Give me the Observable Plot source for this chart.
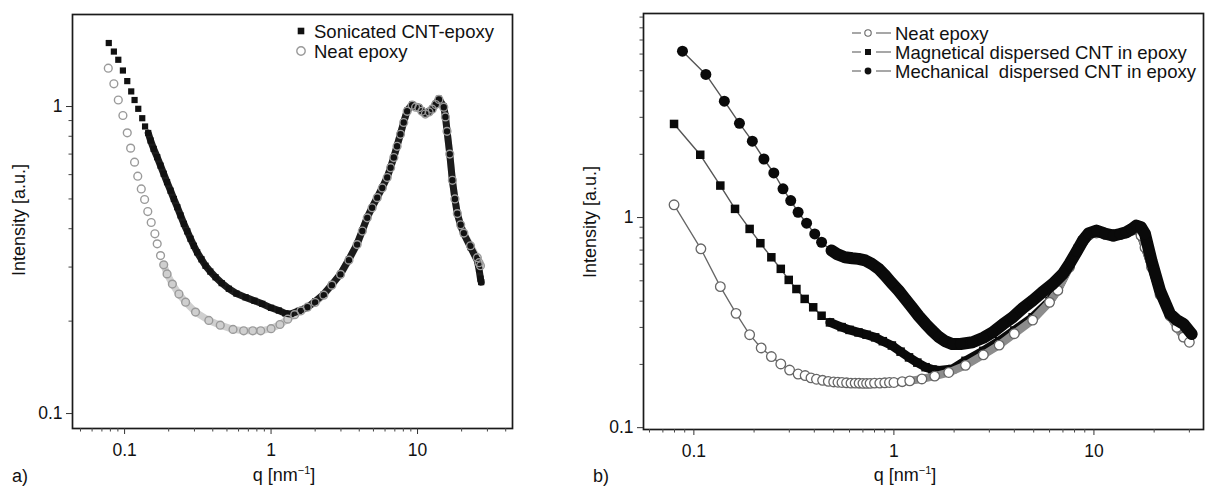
<!DOCTYPE html>
<html><head><meta charset="utf-8">
<script src="https://cdn.jsdelivr.net/npm/d3@7"></script>
<script src="https://cdn.jsdelivr.net/npm/@observablehq/plot@0.6"></script>
<style>
body{margin:0;background:#fff;}
#wrap{position:relative;width:1213px;height:490px;overflow:hidden;background:#fff;}
#wrap > svg{position:absolute;top:0;}
</style></head><body><div id="wrap"></div>
<script>
// ---------- Panel a data ----------
const qA_son = [0.078,0.0845,0.0906,0.0974,0.1043,0.111,0.117,0.124,0.132,0.138,0.145,0.1505,0.158,0.167,0.176,0.185,0.195,0.206,0.217,0.229,0.241,0.254,0.268,0.282,0.297,0.313,0.335,0.357,0.385,0.418,0.46,0.515,0.58,0.67,0.77,0.871,1.0,1.13,1.25,1.36,1.55,1.77,2.0,2.29,2.6,2.98,3.4,3.87,4.2,4.54,4.9,5.31,5.75,6.21,6.55,6.89,7.25,7.65,8.05,8.5,9.19,9.7,10.2,10.7,11.3,12.0,12.6,13.3,14.0,15.1,15.5,15.9,16.6,17.3,18.0,18.7,19.7,20.7,23.0,25.6,26.3,26.9,27.2];
const iA_son = [1.61,1.51,1.42,1.31,1.21,1.12,1.05,0.983,0.916,0.861,0.82,0.775,0.728,0.684,0.642,0.604,0.567,0.532,0.50,0.470,0.442,0.415,0.392,0.371,0.352,0.335,0.318,0.303,0.290,0.278,0.266,0.255,0.246,0.239,0.233,0.2277,0.221,0.2165,0.212,0.211,0.216,0.222,0.232,0.245,0.263,0.285,0.318,0.357,0.395,0.436,0.47,0.506,0.545,0.589,0.634,0.684,0.745,0.815,0.89,0.97,1.015,1.0,0.995,0.97,0.951,0.965,0.983,1.02,1.06,1.0,0.93,0.835,0.70,0.574,0.50,0.447,0.41,0.385,0.348,0.315,0.295,0.275,0.268];
const qA_neat = [0.0774,0.0845,0.0906,0.0974,0.1043,0.110,0.117,0.123,0.130,0.137,0.144,0.152,0.161,0.167,0.176,0.185,0.195,0.212,0.235,0.261,0.305,0.376,0.45,0.55,0.65,0.75,0.85,1.0,1.15,1.3,1.45,1.6,1.77,2.0,2.29,2.6,2.98,3.4,3.87,4.2,4.54,4.9,5.31,5.75,6.21,6.55,6.89,7.25,7.65,8.05,8.5,9.19,9.7,10.2,10.7,11.3,12.0,12.6,13.3,14.0,15.1,15.5,15.9,16.6,17.3,18.0,18.7,19.7,20.7,23.0,25.6,26.3,26.9];
const iA_neat = [1.333,1.186,1.05,0.935,0.821,0.732,0.659,0.593,0.539,0.498,0.455,0.419,0.385,0.357,0.327,0.305,0.285,0.264,0.245,0.2305,0.214,0.201,0.194,0.188,0.186,0.186,0.186,0.189,0.195,0.203,0.21,0.216,0.222,0.23,0.243,0.262,0.284,0.316,0.355,0.393,0.434,0.468,0.505,0.543,0.587,0.632,0.682,0.742,0.812,0.887,0.965,1.01,0.995,0.99,0.965,0.945,0.96,0.98,1.015,1.055,0.995,0.925,0.83,0.70,0.575,0.50,0.448,0.412,0.387,0.352,0.322,0.31,0.303];

// ---------- Panel b data ----------
const qB_neat = [0.0796,0.1084,0.1356,0.1625,0.190,0.217,0.244,0.272,0.301,0.332,0.36,0.385,0.41,0.44,0.47,0.50,0.525,0.55,0.58,0.61,0.64,0.67,0.70,0.73,0.76,0.80,0.85,0.9,0.95,1.0,1.1,1.2,1.38,1.6,1.88,2.28,2.8,3.36,4.0,4.94,6.0,6.6,7.55,8.3,8.81,9.5,10.3,11.4,12.5,13.5,14.5,15.5,16.3,17.2,18.0,19.4,21.4,24.0,26.0,28.0,30.0];
const iB_neat = [1.15,0.71,0.469,0.35,0.277,0.2395,0.218,0.201,0.188,0.180,0.177,0.1725,0.170,0.168,0.166,0.165,0.1645,0.164,0.1635,0.163,0.163,0.1628,0.1625,0.1625,0.1625,0.163,0.163,0.1635,0.164,0.164,0.1655,0.167,0.1705,0.176,0.183,0.198,0.222,0.247,0.28,0.325,0.395,0.45,0.58,0.70,0.77,0.83,0.845,0.83,0.815,0.83,0.845,0.87,0.88,0.82,0.72,0.58,0.43,0.34,0.30,0.27,0.255];
const qB_mag = [0.0796,0.1076,0.1356,0.1606,0.190,0.215,0.244,0.272,0.298,0.3256,0.358,0.395,0.435,0.479,0.548,0.60,0.665,0.73,0.806,0.88,0.977,1.08,1.19,1.31,1.44,1.56,1.68,1.96,2.28,2.8,3.36,4.0,4.94,6.0,6.6,7.55,8.3,8.81,9.5,10.3,11.4,12.5,13.5,14.5,15.5,16.3,17.2,18.0,19.4,21.4,24.0,26.0,28.0,30.0];
const iB_mag = [2.79,1.99,1.42,1.10,0.883,0.755,0.647,0.570,0.505,0.457,0.410,0.374,0.341,0.317,0.301,0.292,0.284,0.277,0.269,0.258,0.246,0.23,0.216,0.204,0.194,0.189,0.187,0.19,0.208,0.232,0.258,0.29,0.335,0.40,0.46,0.59,0.71,0.78,0.84,0.855,0.835,0.82,0.835,0.85,0.875,0.885,0.83,0.73,0.59,0.44,0.345,0.305,0.28,0.265];
const qB_mech = [0.0877,0.1148,0.142,0.169,0.196,0.224,0.251,0.279,0.305,0.332,0.366,0.402,0.435,0.488,0.52,0.569,0.62,0.665,0.72,0.775,0.84,0.904,0.97,1.056,1.14,1.23,1.33,1.44,1.55,1.68,1.8,1.96,2.15,2.47,2.8,3.11,3.5,3.92,4.4,4.94,5.5,6.22,7.0,7.55,8.2,8.81,9.4,10.3,11.3,12.5,13.5,14.5,15.4,16.3,17.2,18.0,19.4,21.4,24.0,26.0,28.0,30.8];
const iB_mech = [6.19,4.80,3.58,2.81,2.31,1.90,1.63,1.37,1.205,1.06,0.94,0.836,0.763,0.697,0.67,0.647,0.64,0.636,0.625,0.602,0.57,0.530,0.49,0.449,0.41,0.374,0.34,0.312,0.29,0.270,0.258,0.250,0.25,0.255,0.268,0.284,0.31,0.335,0.37,0.403,0.44,0.483,0.54,0.602,0.69,0.777,0.84,0.867,0.84,0.821,0.835,0.851,0.88,0.916,0.90,0.836,0.624,0.449,0.348,0.325,0.312,0.279];

// ---------- Ticks ----------
const xMajor = [0.1, 1, 10];
const xMinorA = [0.05,0.06,0.07,0.08,0.09,0.2,0.3,0.4,0.5,0.6,0.7,0.8,0.9,2,3,4,5,6,7,8,9,20,30,40];
const xMinorB = [0.06,0.07,0.08,0.09,0.2,0.3,0.4,0.5,0.6,0.7,0.8,0.9,2,3,4,5,6,7,8,9,20,30];
const yMajor = [0.1, 1];
const yMinorA = [0.2,0.3,0.4,0.5,0.6,0.7,0.8,0.9];
const yMinorB = [0.2,0.3,0.4,0.5,0.6,0.7,0.8,0.9,2,3,4,5,6,7,8,9];

const legendA = ["Sonicated CNT-epoxy", "Neat epoxy"];
const legendB = ["Neat epoxy", "Magnetical dispersed CNT in epoxy", "Mechanical  dispersed CNT in epoxy"];

const rows = (q, v) => q.map((d, i) => ({q: d, I: v[i]}));
const FONT = '"Liberation Sans", Arial, Helvetica, sans-serif';

function axes(xMinor, yMinor) {
  return [
    Plot.frame({stroke: "#1a1a1a", strokeWidth: 1.7}),
    Plot.axisX(xMajor, {tickSize: 6, tickPadding: 9, tickFormat: d => String(d), label: null, fontSize: 17.5, stroke: "#333"}),
    Plot.axisX(xMinor, {tickSize: 3.5, tickFormat: () => "", label: null, stroke: "#444"}),
    Plot.axisY(yMajor, {tickSize: 6, tickPadding: 4, tickFormat: d => String(d), label: null, fontSize: 17.5, stroke: "#333"}),
    Plot.axisY(yMinor, {tickSize: 3.5, tickFormat: () => "", label: null, stroke: "#444"})
  ];
}

// ---------- Panel a ----------
const sonA = rows(qA_son, iA_son), neatA = rows(qA_neat, iA_neat);
const plotA = Plot.plot({
  width: 590, height: 490,
  marginLeft: 72, marginRight: 78, marginTop: 14, marginBottom: 62,
  style: {fontFamily: FONT, fontSize: "17.5px", color: "#111", background: "transparent", overflow: "visible"},
  x: {type: "log", domain: [0.0441, 44.5]},
  y: {type: "log", domain: [0.0894, 1.994]},
  marks: [
    Plot.line(neatA.filter(d => d.q >= 0.18), {x: "q", y: "I", stroke: "#cfcfcf", strokeWidth: 7, strokeLinejoin: "round", strokeLinecap: "round"}),
    Plot.line(sonA.filter(d => d.q >= 0.14), {x: "q", y: "I", stroke: "#1c1c1c", strokeWidth: 7, strokeLinejoin: "round", strokeLinecap: "round"}),
    Plot.dot(sonA, {x: "q", y: "I", symbol: "square", r: 3.5, fill: "#111", stroke: "none"}),
    Plot.dot(neatA, {x: "q", y: "I", symbol: "circle", r: 3.9, fill: "none", stroke: "#9a9a9a", strokeWidth: 1.4}),
    ...axes(xMinorA, yMinorA)
  ]
});
plotA.style.left = "0px";

// ---------- Panel b ----------
const neatB = rows(qB_neat, iB_neat), magB = rows(qB_mag, iB_mag), mechB = rows(qB_mech, iB_mech);
const plotB = Plot.plot({
  width: 623, height: 490,
  marginLeft: 53, marginRight: 10, marginTop: 13, marginBottom: 61,
  style: {fontFamily: FONT, fontSize: "17.5px", color: "#111", background: "transparent", overflow: "visible"},
  x: {type: "log", domain: [0.056, 35.3]},
  y: {type: "log", domain: [0.098, 9.36]},
  marks: [
    Plot.line(magB, {x: "q", y: "I", stroke: "#555", strokeWidth: 1.4}),
    Plot.line(magB.filter(d => d.q >= 0.45), {x: "q", y: "I", stroke: "#0a0a0a", strokeWidth: 9, strokeLinejoin: "round", strokeLinecap: "round"}),
    Plot.dot(magB, {x: "q", y: "I", symbol: "square", r: 4.8, fill: "#0a0a0a"}),
    Plot.line(neatB, {x: "q", y: "I", stroke: "#666", strokeWidth: 1.3}),
    Plot.line(neatB.filter(d => d.q >= 1.0), {x: "q", y: "I", stroke: "#8c8c8c", strokeWidth: 8, strokeLinejoin: "round", strokeLinecap: "round"}),
    Plot.dot(neatB, {x: "q", y: "I", symbol: "circle", r: 4.8, fill: "white", stroke: "#666", strokeWidth: 1.3}),
    Plot.line(mechB, {x: "q", y: "I", stroke: "#555", strokeWidth: 1.4}),
    Plot.line(mechB.filter(d => d.q >= 0.45), {x: "q", y: "I", stroke: "#0a0a0a", strokeWidth: 12, strokeLinejoin: "round", strokeLinecap: "round"}),
    Plot.dot(mechB, {x: "q", y: "I", symbol: "circle", r: 5.5, fill: "#0a0a0a"}),
    ...axes(xMinorB, yMinorB)
  ]
});
plotB.style.left = "590px";

const wrap = document.getElementById("wrap");
wrap.appendChild(plotA);
wrap.appendChild(plotB);

// ---------- Overlay: titles, legends, panel letters ----------
const ov = d3.select(wrap).append("svg")
  .attr("width", 1213).attr("height", 490)
  .style("left", "0px").style("pointer-events", "none")
  .attr("font-family", FONT).attr("fill", "#111");

function xTitle(cx) {
  const t = ov.append("text").attr("x", cx).attr("y", 481).attr("text-anchor", "middle").attr("font-size", 18);
  t.append("tspan").text("q [nm");
  t.append("tspan").attr("dy", -7).attr("font-size", 11).text("\u22121");
  t.append("tspan").attr("dy", 7).text("]");
}
xTitle(284); xTitle(905);
function yTitle(cx, cy) {
  ov.append("text").attr("transform", `translate(${cx},${cy}) rotate(-90)`)
    .attr("text-anchor", "middle").attr("dominant-baseline", "central").attr("font-size", 18)
    .text("Intensity [a.u.]");
}
yTitle(19, 220); yTitle(590, 222);
ov.append("text").attr("x", 12).attr("y", 482).attr("font-size", 18).text("a)");
ov.append("text").attr("x", 593).attr("y", 482).attr("font-size", 18).text("b)");

// legend a
const symA = [
  g => g.append("rect").attr("x", -3.3).attr("y", -3.3).attr("width", 6.6).attr("height", 6.6).attr("fill", "#111"),
  g => g.append("circle").attr("r", 4.2).attr("fill", "none").attr("stroke", "#9a9a9a").attr("stroke-width", 1.4)
];
legendA.forEach((label, i) => {
  const y = 31 + i * 20;
  symA[i](ov.append("g").attr("transform", `translate(301,${y})`));
  ov.append("text").attr("x", 314).attr("y", y).attr("dominant-baseline", "central").attr("font-size", 18.5).text(label);
});

// legend b
const symB = [
  g => g.append("circle").attr("r", 3.2).attr("fill", "white").attr("stroke", "#666").attr("stroke-width", 1.1),
  g => g.append("rect").attr("x", -3).attr("y", -3).attr("width", 6).attr("height", 6).attr("fill", "#111"),
  g => g.append("circle").attr("r", 3.4).attr("fill", "#111")
];
legendB.forEach((label, i) => {
  const y = 33 + i * 19;
  ov.append("line").attr("x1", 852).attr("x2", 861).attr("y1", y).attr("y2", y).attr("stroke", "#777").attr("stroke-width", 1.3);
  ov.append("line").attr("x1", 876).attr("x2", 891).attr("y1", y).attr("y2", y).attr("stroke", "#777").attr("stroke-width", 1.3);
  symB[i](ov.append("g").attr("transform", `translate(868,${y})`));
  ov.append("text").attr("x", 895).attr("y", y).attr("dominant-baseline", "central").attr("font-size", 18.5)
    .attr("xml:space", "preserve").style("white-space", "pre").text(label);
});
</script>
</body></html>
